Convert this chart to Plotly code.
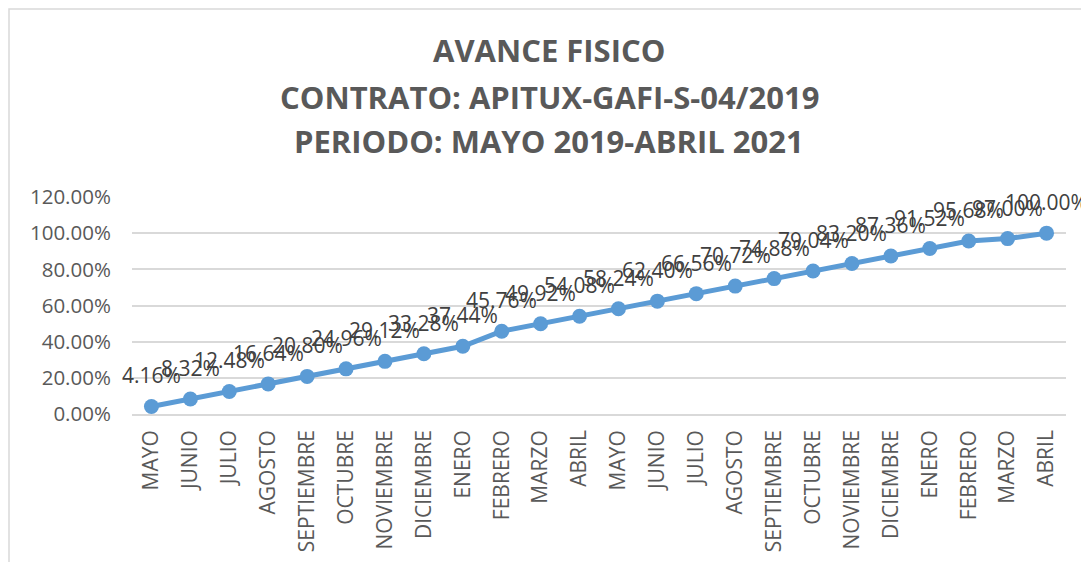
import plotly.graph_objects as go

months = ["MAYO", "JUNIO", "JULIO", "AGOSTO", "SEPTIEMBRE", "OCTUBRE", "NOVIEMBRE",
          "DICIEMBRE", "ENERO", "FEBRERO", "MARZO", "ABRIL", "MAYO", "JUNIO", "JULIO",
          "AGOSTO", "SEPTIEMBRE", "OCTUBRE", "NOVIEMBRE", "DICIEMBRE", "ENERO",
          "FEBRERO", "MARZO", "ABRIL"]
avance = [4.16, 8.32, 12.48, 16.64, 20.80, 24.96, 29.12, 33.28, 37.44, 45.76, 49.92,
          54.08, 58.24, 62.40, 66.56, 70.72, 74.88, 79.04, 83.20, 87.36, 91.52, 95.68,
          97.00, 100.00]
title_lines = ["AVANCE FISICO", "CONTRATO: APITUX-GAFI-S-04/2019",
               "PERIODO: MAYO 2019-ABRIL 2021"]

idx = list(range(len(months)))
yvals = [v / 100 for v in avance]

fig = go.Figure()
fig.add_trace(go.Scatter(
    x=idx, y=yvals,
    mode="lines+markers",
    line=dict(color="#5b9bd5", width=5),
    marker=dict(color="#5b9bd5", size=15),
    cliponaxis=False,
    hoverinfo="skip",
))

# data labels above each point
for i, v in zip(idx, avance):
    fig.add_annotation(
        x=i, y=v / 100, xref="x", yref="y",
        text=f"{v:.2f}%", showarrow=False,
        xanchor="center", yanchor="middle", yshift=31,
        font=dict(family="Open Sans", size=21, color="#404040"),
    )

L, R, T, B = 124, 31, 189, 156
W, H = 1089, 562
pw, ph = W - L - R, H - T - B

def px(x):
    return (x - L) / pw

def py(y):
    return (H - B - y) / ph

fig.update_layout(
    width=W, height=H,
    margin=dict(l=L, r=R, t=T, b=B, autoexpand=False),
    paper_bgcolor="white", plot_bgcolor="white",
    showlegend=False,
    font=dict(family="Open Sans", color="#595959"),
    xaxis=dict(
        tickmode="array", tickvals=idx, ticktext=months,
        range=[-0.5, len(months) - 0.5],
        tickangle=-90, tickfont=dict(size=21, color="#595959"),
        showgrid=False, showline=True, linecolor="#d9d9d9", linewidth=1.5,
        ticks="outside", ticklen=6, tickcolor="rgba(0,0,0,0)",
        zeroline=False, fixedrange=True,
    ),
    yaxis=dict(
        range=[0, 1.2], tickvals=[0, 0.2, 0.4, 0.6, 0.8, 1.0, 1.2],
        tickformat=".2%", tickfont=dict(size=20.5, color="#595959"),
        showgrid=True, gridcolor="#d9d9d9", gridwidth=1.5,
        zeroline=False, showline=False,
        ticks="outside", ticklen=16, tickcolor="rgba(0,0,0,0)",
        fixedrange=True,
    ),
)

for line, yc in zip(title_lines, [42, 89, 133]):
    fig.add_annotation(
        text=f"<b>{line}</b>", xref="paper", yref="paper",
        x=px(541), y=py(yc), xanchor="center", yanchor="middle",
        showarrow=False,
        font=dict(family="Open Sans", size=31, color="#595959"),
    )

fig.add_shape(
    type="rect", xref="paper", yref="paper",
    x0=px(1), x1=px(1300), y0=py(800), y1=py(1),
    line=dict(color="#d9d9d9", width=1.5), fillcolor="rgba(0,0,0,0)", layer="below",
)

fig.write_html("out.html")
